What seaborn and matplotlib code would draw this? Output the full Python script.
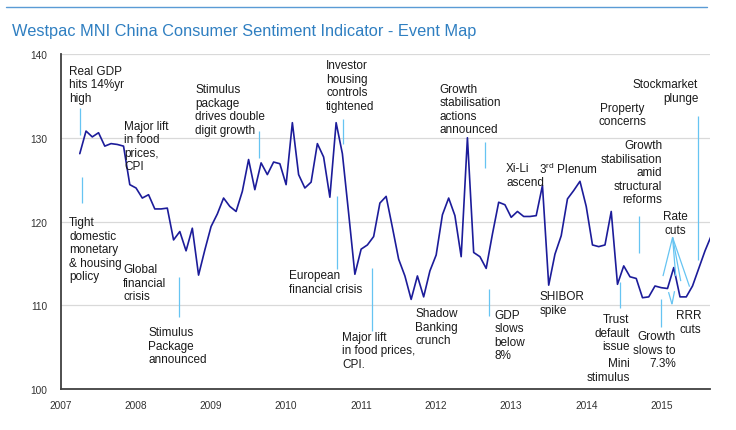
import pandas as pd
import seaborn as sns
import matplotlib.pyplot as plt
from matplotlib.lines import Line2D

# monthly index values, Apr 2007 - Sep 2015
start_month = "2007-04"
index_values = [
    128.1, 130.8, 130.1, 130.6, 129.0, 129.3, 129.2, 129.0, 124.4,
    124.0, 122.8, 123.2, 121.5, 121.5, 121.6, 117.8, 118.8, 116.5, 119.2, 113.6, 116.6,
    119.4, 120.9, 122.8, 121.8, 121.2, 123.6, 127.4, 123.8, 127.0, 125.6, 127.1, 126.9,
    124.4, 131.8, 125.6, 124.0, 124.7, 129.3, 127.7, 122.9, 131.8, 128.1, 121.0, 113.7,
    116.7, 117.2, 118.2, 122.2, 123.0, 119.3, 115.5, 113.5, 110.7, 113.5, 111.0, 114.1,
    116.0, 120.8, 122.8, 120.7, 115.8, 130.0, 116.3, 115.8, 114.4, 118.5, 122.3, 122.0,
    120.5, 121.2, 120.6, 120.6, 120.7, 124.3, 112.4, 116.1, 118.3, 122.7, 123.7, 124.8,
    121.8, 117.2, 117.0, 117.2, 121.2, 112.5, 114.7, 113.4, 113.2, 110.9, 111.0, 112.3,
    112.1, 112.0, 114.5, 111.0, 111.0, 112.3, 114.4, 116.5, 118.3,
]
year_ticks = list(range(2007, 2016))
y_ticks = [100, 110, 120, 130, 140]

# event labels: text, x (year), y (index), alignment
events = [
    ("Real GDP\nhits 14%yr\nhigh", 2007.107, 136.36, "left"),
    ("Tight\ndomestic\nmonetary\n& housing\npolicy", 2007.107, 116.70, "left"),
    ("Major lift\nin food\nprices,\nCPI", 2007.84, 129.0, "left"),
    ("Global\nfinancial\ncrisis", 2007.827, 112.70, "left"),
    ("Stimulus\nPackage\nannounced", 2008.16, 105.17, "left"),
    ("Stimulus\npackage\ndrives double\ndigit growth", 2008.787, 133.37, "left"),
    ("Investor\nhousing\ncontrols\ntightened", 2010.533, 136.24, "left"),
    ("European\nfinancial crisis", 2010.04, 112.76, "left"),
    ("Major lift\nin food prices,\nCPI.", 2010.747, 104.64, "left"),
    ("Growth\nstabilisation\nactions\nannounced", 2012.04, 133.43, "left"),
    ("Shadow\nBanking\ncrunch", 2011.72, 107.44, "left"),
    ("GDP\nslows\nbelow\n8%", 2012.773, 106.43, "left"),
    ("Xi-Li\nascend", 2012.933, 125.54, "left"),
    ("3$^{\\mathrm{rd}}$ Plenum", 2013.373, 126.38, "left"),
    ("Property\nconcerns", 2014.48, 132.77, "center"),
    ("Stockmarket\nplunge", 2015.493, 135.58, "right"),
    ("Growth\nstabilisation\namid\nstructural\nreforms", 2015.013, 125.90, "right"),
    ("Rate\ncuts", 2015.187, 119.81, "center"),
    ("RRR\ncuts", 2015.533, 107.98, "right"),
    ("SHIBOR\nspike", 2013.373, 110.25, "left"),
    ("Trust\ndefault\nissue", 2014.577, 106.73, "right"),
    ("Mini\nstimulus", 2014.577, 102.25, "right"),
    ("Growth\nslows to\n7.3%", 2015.196, 104.69, "right"),
]

# leader lines: (x0, y0, x1, y1)
leaders = [
    (2007.253, 133.55, 2007.253, 130.32),
    (2007.28, 125.30, 2007.28, 122.20),
    (2008.573, 113.36, 2008.573, 108.58),
    (2009.64, 130.80, 2009.64, 127.57),
    (2010.76, 132.23, 2010.76, 129.25),
    (2010.673, 123.03, 2010.673, 114.31),
    (2011.147, 114.43, 2011.147, 106.91),
    (2012.653, 129.49, 2012.653, 126.38),
    (2012.707, 111.92, 2012.707, 108.70),
    (2015.493, 132.59, 2015.493, 115.39),
    (2014.707, 120.64, 2014.707, 116.22),
    (2014.444, 112.76, 2014.444, 109.65),
    (2014.996, 110.73, 2014.996, 107.38),
    (2015.151, 118.10, 2015.023, 113.48),
    (2015.151, 118.10, 2015.193, 113.48),
    (2015.151, 118.10, 2015.26, 112.88),
    (2015.151, 118.10, 2015.377, 112.22),
    (2015.143, 110.13, 2015.097, 111.57),
    (2015.143, 110.13, 2015.177, 111.68),
]

dates = pd.date_range(start_month, periods=len(index_values), freq="MS")
df = pd.DataFrame({"year": dates.year + (dates.month - 1) / 12, "value": index_values})

sns.set_style("white")
plt.rcParams["font.family"] = ["Liberation Sans", "DejaVu Sans"]
plt.rcParams["mathtext.fontset"] = "custom"
plt.rcParams["mathtext.rm"] = "Liberation Sans"
plt.rcParams["mathtext.it"] = "Liberation Sans"

fig = plt.figure(figsize=(7.36, 4.31), dpi=100)
ax = fig.add_axes([0.0829, 0.0951, 0.8818, 0.7773])

ax.set_axisbelow(True)
ax.yaxis.grid(True, color="#d9d9d9", linewidth=0.9)
sns.lineplot(data=df, x="year", y="value", ax=ax, color="#1c1c9a", linewidth=1.2)

for x0, y0, x1, y1 in leaders:
    ax.plot([x0, x1], [y0, y1], color="#66c4f2", linewidth=0.9, solid_capstyle="butt")

for txt, x, y, ha in events:
    ax.text(x, y, txt, ha=ha, va="center", multialignment=ha, fontsize=8.5,
            color="#1a1a1a", linespacing=1.17)

ax.set_xlim(2007, 2015.65)
ax.set_ylim(100, 140)
ax.set_xticks(year_ticks)
ax.set_xticklabels([str(y) for y in year_ticks])
ax.set_yticks(y_ticks)
ax.set_xlabel("")
ax.set_ylabel("")
ax.tick_params(axis="both", length=0, labelsize=7.3, colors="#333333")
ax.tick_params(axis="y", pad=10)
ax.tick_params(axis="x", pad=8)
for side in ["top", "right"]:
    ax.spines[side].set_visible(False)
for side in ["left", "bottom"]:
    ax.spines[side].set_color("#404040")
    ax.spines[side].set_linewidth(1.3)

fig.text(0.0163, 0.928, "Westpac MNI China Consumer Sentiment Indicator - Event Map",
         fontsize=11.8, color="#2f7fc1", va="center", ha="left")
fig.add_artist(Line2D([0.008, 0.961], [0.981, 0.981], color="#5a9bd5", linewidth=1.0))

plt.savefig("out.png", dpi=100)
